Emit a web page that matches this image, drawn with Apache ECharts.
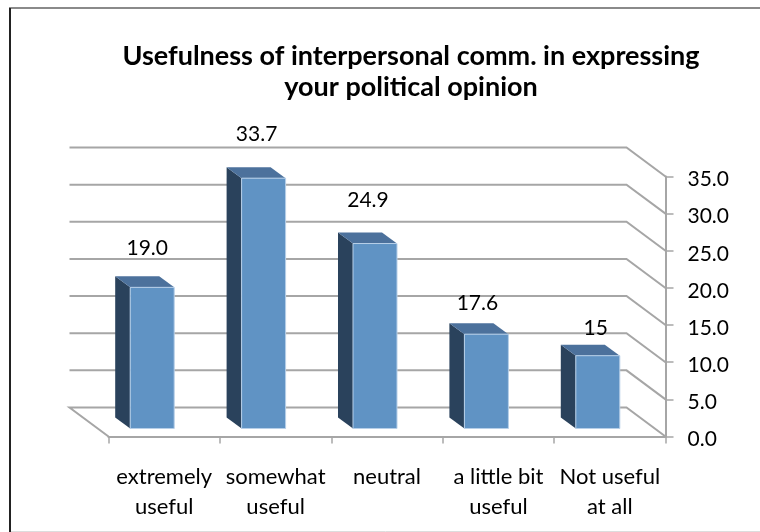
<!DOCTYPE html>
<html><head><meta charset="utf-8">
<style>html,body{margin:0;padding:0;background:#fff}#c{width:760px;height:532px}</style>
<script src="https://cdn.jsdelivr.net/npm/echarts@6/dist/echarts.min.js"></script>
</head><body><div id="c"></div>
<script>
var categories = ['extremely\nuseful', 'somewhat\nuseful', 'neutral', 'a little bit\nuseful', 'Not useful\nat all'];
var barHeights = [19.0, 33.7, 24.9, 12.7, 9.8];
var printedLabels = ['19.0', '33.7', '24.9', '17.6', '15'];
var axisTicks = [0, 5, 10, 15, 20, 25, 30, 35];

// layout constants (pixels)
var wallDx = -39, wallDy = -29;
var barDx = -15, barDy = -11, barBase = 8, barShift = -12, barRatio = 0.395;
var labelNudge = [[-5, -28], [-7, -33], [-7, -32], [-9, -20], [-2, -16]];

var GREY = '#a6a6a6';
var FONT = 'Lato';

var chart = echarts.init(document.getElementById('c'), null, {renderer: 'canvas'});

function renderWall(params, api) {
  var v = api.value(0);
  var cs = params.coordSys;
  var y = api.coord([0, v])[1];
  var xr = cs.x + cs.width, xl = cs.x;
  var pts = [[xr, y], [xr + wallDx, y + wallDy], [xl + wallDx, y + wallDy]];
  if (v === 0) pts.push([xl, y]);
  return {type: 'polyline', shape: {points: pts},
    style: {fill: null, stroke: GREY, lineWidth: 2}, silent: true};
}

function renderBar(params, api) {
  var i = api.value(0), h = api.value(1);
  var top = api.coord([i, h]);
  var zero = api.coord([i, 0]);
  var w = api.size([1, 0])[0] * barRatio;
  var x0 = top[0] + barShift - w / 2, x1 = x0 + w;
  var yT = top[1] - barBase, yB = zero[1] - barBase;
  var n = labelNudge[i];
  return {type: 'group', children: [
    {type: 'polygon', shape: {points: [[x0, yT], [x0 + barDx, yT + barDy], [x0 + barDx, yB + barDy], [x0, yB]]},
      style: {fill: '#2a425c'}},
    {type: 'polygon', shape: {points: [[x0, yT], [x0 + barDx, yT + barDy], [x1 + barDx, yT + barDy], [x1, yT]]},
      style: {fill: '#4c719c'}},
    {type: 'rect', shape: {x: x0, y: yT, width: w, height: yB - yT},
      style: {fill: '#6093c4', stroke: '#b7cfe8', lineWidth: 1}},
    {type: 'text', style: {text: printedLabels[i], x: x0 + w / 2 + n[0], y: yT + barDy + n[1],
      font: '21px ' + FONT, fill: '#000', textAlign: 'center', textVerticalAlign: 'middle'}}
  ]};
}

chart.setOption({
  animation: false,
  backgroundColor: '#fff',
  title: {
    text: 'Usefulness of interpersonal comm. in expressing\nyour political opinion',
    left: 411, top: 41, textAlign: 'center', padding: 0,
    textStyle: {fontFamily: FONT, fontWeight: 'bold', fontSize: 27, lineHeight: 31, color: '#000'}
  },
  graphic: [
    {type: 'line', shape: {x1: 9, y1: 8, x2: 760, y2: 8}, style: {stroke: '#8a8a8a', lineWidth: 2}},
    {type: 'line', shape: {x1: 10, y1: 8, x2: 10, y2: 532}, style: {stroke: '#222', lineWidth: 2}},
    {type: 'line', shape: {x1: 11, y1: 531.5, x2: 760, y2: 531.5}, style: {stroke: '#dddddd', lineWidth: 1}}
  ],
  grid: {left: 108.5, right: 94.5, top: 176.5, bottom: 95.5, containLabel: false},
  xAxis: {
    type: 'category', data: categories, boundaryGap: true,
    axisLine: {lineStyle: {color: GREY, width: 2}},
    axisTick: {show: true, alignWithLabel: false, length: 7, lineStyle: {color: GREY, width: 1.5}},
    axisLabel: {interval: 0, fontFamily: FONT, fontSize: 22, lineHeight: 30, color: '#000', margin: 25}
  },
  yAxis: {
    type: 'value', position: 'right', min: 0, max: 35, interval: 5,
    axisLine: {show: true, lineStyle: {color: GREY, width: 2}},
    axisTick: {show: true, length: 8, lineStyle: {color: GREY, width: 1.5}},
    splitLine: {show: false},
    axisLabel: {fontFamily: FONT, fontSize: 21, color: '#000', margin: 22, verticalAlign: 'top', lineHeight: 6,
      formatter: function (v) { return v.toFixed(1); }}
  },
  series: [
    {type: 'custom', coordinateSystem: 'cartesian2d', renderItem: renderWall, silent: true, clip: false,
      encode: {y: 0}, data: axisTicks.map(function (t) { return [t]; }), z: 1},
    {type: 'custom', coordinateSystem: 'cartesian2d', renderItem: renderBar, silent: true, clip: false,
      encode: {x: 0, y: 1}, data: barHeights.map(function (h, i) { return [i, h]; }), z: 2}
  ]
});
</script></body></html>
